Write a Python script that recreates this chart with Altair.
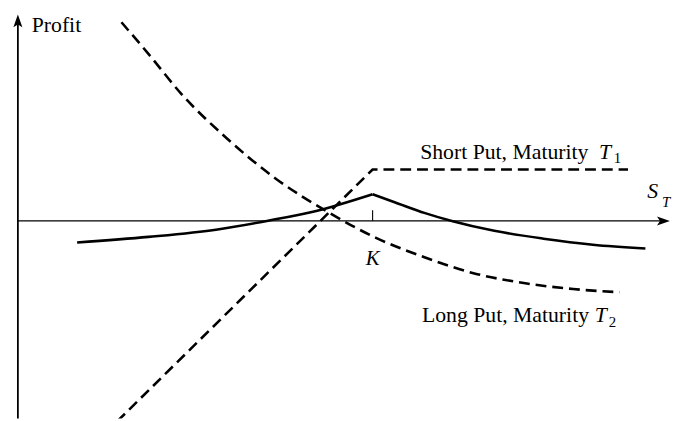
import altair as alt
import pandas as pd

# ---- data (S = stock price at T1, P = profit) ----
K = 100
short_put_S = [28.0, 100.0, 172.0]
short_put_P = [-56.5, 14.5, 14.5]

long_put_S = [29.2, 36.8, 46.0, 59.1, 73.0, 86.9, 100.8, 114.8, 128.7, 142.6, 156.5, 169.6]
long_put_P = [56.0, 47.1, 35.9, 23.1, 11.7, 2.8, -4.7, -10.3, -14.8, -17.5, -19.2, -20.1]

spread_left_S = [16.7, 36.8, 56.3, 70.2, 84.1, 100.0]
spread_left_P = [-6.1, -4.5, -2.4, 0.0, 2.8, 7.5]
spread_right_S = [100.0, 106.4, 114.8, 122.6, 134.3, 148.2, 162.1, 176.9]
spread_right_P = [7.5, 5.2, 2.2, -0.1, -2.8, -5.0, -6.7, -7.8]

# ---- scales (pixel layout) ----
xs = alt.Scale(domain=[-2.786, 184.4], nice=False, zero=False)
ys = alt.Scale(domain=[-55.71, 59.33], nice=False, zero=False)

def enc(chart, x="S", y="P"):
    return chart.encode(
        x=alt.X(f"{x}:Q", scale=xs, axis=None),
        y=alt.Y(f"{y}:Q", scale=ys, axis=None),
    )

FONT = "Liberation Serif"

short_df = pd.DataFrame({"S": short_put_S, "P": short_put_P})
long_df = pd.DataFrame({"S": long_put_S, "P": long_put_P})
spread_df = pd.concat([
    pd.DataFrame({"S": spread_left_S, "P": spread_left_P, "part": "left"}),
    pd.DataFrame({"S": spread_right_S, "P": spread_right_P, "part": "right"}),
])

short_line = enc(alt.Chart(short_df).mark_line(
    color="black", strokeWidth=2.6, strokeDash=[11, 6], clip=True))
long_line = enc(alt.Chart(long_df).mark_line(
    color="black", strokeWidth=2.6, strokeDash=[11, 6], interpolate="monotone", clip=True))
spread_line = enc(alt.Chart(spread_df).mark_line(
    color="black", strokeWidth=2.6, interpolate="monotone", clip=True)).encode(detail="part:N")

# axes
h_axis = alt.Chart(pd.DataFrame({"S": [0.0], "S2": [182.5], "P": [0.0]})).mark_rule(
    color="black", strokeWidth=1.3).encode(
    x=alt.X("S:Q", scale=xs, axis=None), x2="S2:Q",
    y=alt.Y("P:Q", scale=ys, axis=None))
v_axis = alt.Chart(pd.DataFrame({"S": [0.0], "P": [-60.0], "P2": [56.0]})).mark_rule(
    color="black", strokeWidth=1.8, clip=True).encode(
    x=alt.X("S:Q", scale=xs, axis=None),
    y=alt.Y("P:Q", scale=ys, axis=None), y2="P2:Q")
k_tick = alt.Chart(pd.DataFrame({"S": [K], "P": [0.0], "P2": [3.0]})).mark_rule(
    color="black", strokeWidth=1.1).encode(
    x=alt.X("S:Q", scale=xs, axis=None),
    y=alt.Y("P:Q", scale=ys, axis=None), y2="P2:Q")

arrow_right = enc(alt.Chart(pd.DataFrame({"S": [183.8], "P": [0.0]})).mark_point(
    shape="M0,0L-2,-0.7L-1.55,0L-2,0.7Z", size=169, filled=True, color="black",
    opacity=1, strokeWidth=0))
arrow_up = enc(alt.Chart(pd.DataFrame({"S": [0.0], "P": [58.2]})).mark_point(
    shape="M0,0L-0.7,2L0,1.55L0.7,2Z", size=169, filled=True, color="black",
    opacity=1, strokeWidth=0))

# labels
def label(df, size=22, style="normal", align="left"):
    return enc(alt.Chart(df).mark_text(
        font=FONT, fontSize=size, fontStyle=style, align=align,
        baseline="alphabetic", color="black")).encode(text="t:N")

labels_regular = label(pd.DataFrame({
    "S": [3.9, 113.4, 113.9],
    "P": [53.2, 17.5, -28.4],
    "t": ["Profit", "Short Put, Maturity", "Long Put, Maturity"],
}))
labels_italic = label(pd.DataFrame({
    "S": [163.8, 162.6, 177.4],
    "P": [17.5, -28.4, 6.4],
    "t": ["T", "T", "S"],
}), style="italic")
k_label = label(pd.DataFrame({"S": [K], "P": [-12.3], "t": ["K"]}), size=21,
                style="italic", align="center")
subs = label(pd.DataFrame({
    "S": [168.0, 166.6],
    "P": [16.2, -29.8],
    "t": ["1", "2"],
}), size=15)
sub_T = label(pd.DataFrame({"S": [181.6], "P": [3.9], "t": ["T"]}), size=15, style="italic")

chart = alt.layer(
    h_axis, v_axis, k_tick, arrow_right, arrow_up,
    short_line, long_line, spread_line,
    labels_regular, labels_italic, k_label, subs, sub_T,
).properties(
    width=672, height=413,
    autosize=alt.AutoSizeParams(type="none"),
    padding=0,
).configure_view(stroke=None)

chart.save("out.html", embed_options={"renderer": "svg", "actions": False})
